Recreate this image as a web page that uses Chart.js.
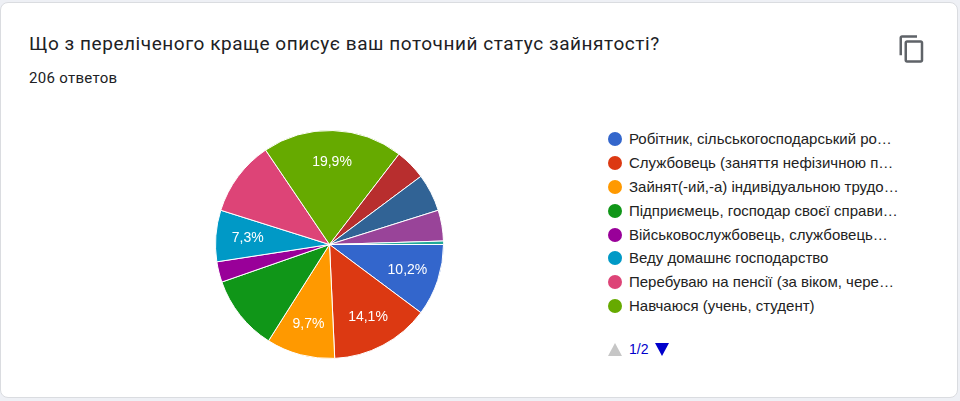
<!DOCTYPE html>
<html lang="uk">
<head>
<meta charset="utf-8">
<title>Статус зайнятості</title>
<script src="https://cdn.jsdelivr.net/npm/chart.js@4"></script>
<style>
  html, body { margin: 0; padding: 0; }
  body { width: 960px; height: 401px; background: #eef0f5; overflow: hidden; font-family: Roboto, "Liberation Sans", Arial, sans-serif; }
  .card { position: absolute; left: 0; top: 2px; width: 958px; height: 396px; background: #fff; border: 1px solid #dadce0; border-radius: 8px; box-sizing: border-box; }
  .title { position: absolute; left: 28px; top: 29px; font-size: 19px; color: #202124; letter-spacing: 0.55px; white-space: nowrap; }
  .count { position: absolute; left: 28px; top: 66px; font-size: 15px; color: #202124; letter-spacing: 0.3px; }
  .copy { position: absolute; left: 896px; top: 31px; }
  .pie-wrap { position: absolute; left: 214px; top: 127px; width: 229px; height: 229px; }
  .legend { position: absolute; left: 607px; top: 124px; margin: 0; padding: 0; list-style: none; font-family: "Liberation Sans", Arial, sans-serif; font-size: 15px; color: #222; }
  .legend li { height: 23.9px; line-height: 20px; white-space: nowrap; display: flex; align-items: center; }
  .legend .dot { width: 14px; height: 14px; border-radius: 50%; margin-right: 7px; flex: none; }
  .pager { position: absolute; left: 606px; top: 338px; font-family: "Liberation Sans", Arial, sans-serif; font-size: 14px; color: #0000cc; display: flex; align-items: center; }
</style>
</head>
<body>
<div class="card">
  <div class="title">Що з переліченого краще описує ваш поточний статус зайнятості?</div>
  <div class="count">206 ответов</div>
  <svg class="copy" width="30" height="30" viewBox="0 0 24 24"><path fill="#5f6368" d="M16 1H4c-1.1 0-2 .9-2 2v14h2V3h12V1zm3 4H8c-1.1 0-2 .9-2 2v14c0 1.1.9 2 2 2h11c1.1 0 2-.9 2-2V7c0-1.1-.9-2-2-2zm0 16H8V7h11v14z"/></svg>
  <div class="pie-wrap"><canvas id="pieChart"></canvas></div>
  <ul class="legend" id="legend"></ul>
  <div class="pager">
    <svg width="16" height="14"><polygon points="1,14 8,1 15,14" fill="#c6c6c6"/></svg>
    <span style="margin:0 6px 0 6px">1/2</span>
    <svg width="16" height="14"><polygon points="1,1 15,1 8,14" fill="#0000cc"/></svg>
  </div>
</div>

<script>
// ===== Data =====
// legend page 1 shows the first 8 answers (as truncated on screen); the rest are on page 2
const categories = [
  'Робітник, сільськогосподарський ро…',
  'Службовець (заняття нефізичною п…',
  'Зайнят(-ий,-а) індивідуальною трудо…',
  'Підприємець, господар своєї справи…',
  'Військовослужбовець, службовець…',
  'Веду домашнє господарство',
  'Перебуваю на пенсії (за віком, чере…',
  'Навчаюся (учень, студент)',
  'Інше 1',
  'Інше 2',
  'Інше 3',
  'Інше 4'
];
const responses = [21, 29, 20, 22, 6, 15, 22, 41, 9, 11, 9, 1];
const sliceColors = [
  '#3366cc', '#dc3912', '#ff9900', '#109618', '#990099', '#0099c6',
  '#dd4477', '#66aa00', '#b82e2e', '#316395', '#994499', '#22aa99'
];
const labelledSlices = [0, 1, 2, 5, 7];   // slices that show a % on the pie
const legendPageSize = 8;

const total = responses.reduce((a, b) => a + b, 0);

// ===== HTML legend (page 1 of 2) =====
const legendEl = document.getElementById('legend');
categories.slice(0, legendPageSize).forEach((name, i) => {
  const li = document.createElement('li');
  li.innerHTML = '<span class="dot" style="background:' + sliceColors[i] + '"></span><span class="txt"></span>';
  li.querySelector('.txt').textContent = name;
  legendEl.appendChild(li);
});

// ===== Percent labels on slices =====
const sliceLabels = {
  id: 'sliceLabels',
  afterDatasetsDraw(chart) {
    const ctx = chart.ctx;
    const meta = chart.getDatasetMeta(0);
    ctx.save();
    ctx.fillStyle = '#fff';
    ctx.font = '14px "Liberation Sans", Arial, sans-serif';
    ctx.textAlign = 'center';
    ctx.textBaseline = 'middle';
    labelledSlices.forEach(i => {
      const arc = meta.data[i];
      const mid = (arc.startAngle + arc.endAngle) / 2;
      const r = arc.outerRadius * 0.72;
      const pct = (responses[i] / total * 100).toFixed(1).replace('.', ',') + '%';
      ctx.fillText(pct, arc.x + Math.cos(mid) * r, arc.y + Math.sin(mid) * r);
    });
    ctx.restore();
  }
};

// ===== Pie =====
new Chart(document.getElementById('pieChart'), {
  type: 'pie',
  data: {
    labels: categories,
    datasets: [{
      data: responses,
      backgroundColor: sliceColors,
      borderColor: '#fff',
      borderWidth: 1
    }]
  },
  options: {
    responsive: true,
    maintainAspectRatio: false,
    animation: false,
    rotation: 90,
    layout: { padding: 0 },
    plugins: {
      legend: { display: false },
      tooltip: { enabled: false }
    }
  },
  plugins: [sliceLabels]
});
</script>
</body>
</html>
